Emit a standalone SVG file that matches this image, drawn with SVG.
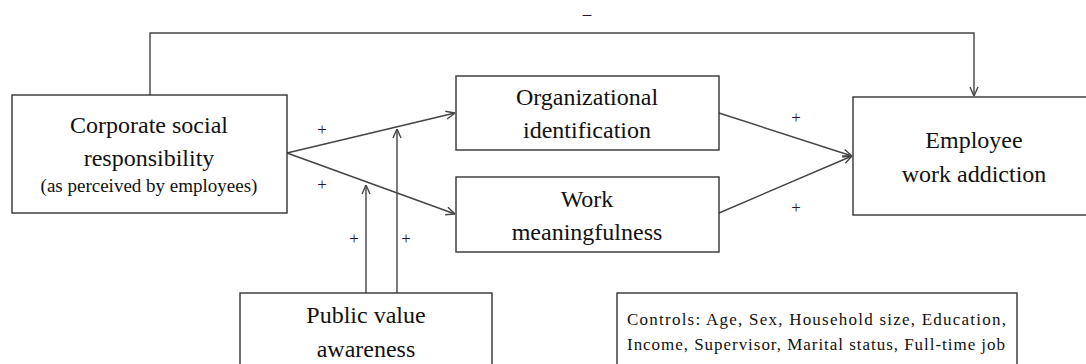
<svg xmlns="http://www.w3.org/2000/svg" width="1086" height="364" viewBox="0 0 1086 364">
  <style>
    .box { fill: #ffffff; stroke: #333333; stroke-width: 1.4; }
    .link { fill: none; stroke: #444444; stroke-width: 1.4; }
    .serif { font-family: 'Liberation Serif', 'Times New Roman', Times, serif; }
  </style>
  <defs>
    <marker id="arrow" viewBox="0 0 10 10" refX="10" refY="5" markerWidth="10" markerHeight="10" markerUnits="userSpaceOnUse" orient="auto">
      <path d="M1,1 L10,5 L1,9" fill="none" stroke="#444444" stroke-width="1.4"/>
    </marker>
  </defs>
  <rect width="1086" height="364" fill="#ffffff"/>

  <!-- connectors and their signs -->
  <g id="connectors">
    <path class="link" d="M150,95 V33 H974 V96" marker-end="url(#arrow)"/>
    <line class="link" x1="287" y1="153" x2="455" y2="113" marker-end="url(#arrow)"/>
    <line class="link" x1="287" y1="153" x2="455" y2="214" marker-end="url(#arrow)"/>
    <line class="link" x1="719" y1="113" x2="852" y2="156" marker-end="url(#arrow)"/>
    <line class="link" x1="719" y1="213" x2="852" y2="156" marker-end="url(#arrow)"/>
    <line class="link" x1="366" y1="293" x2="366" y2="185" marker-end="url(#arrow)"/>
    <line class="link" x1="397" y1="293" x2="397" y2="129" marker-end="url(#arrow)"/>
    <g id="signs" class="serif" font-size="17" fill="#2a1530" text-anchor="middle">
      <text x="587" y="19">–</text>
      <text x="322" y="135">+</text>
      <text x="322" y="190">+</text>
      <text x="354" y="244">+</text>
      <text x="406" y="244">+</text>
      <text x="796" y="123">+</text>
      <text x="796" y="213">+</text>
    </g>
  </g>

  <g class="serif" fill="#111111" font-size="24" text-anchor="middle">
    <g id="csr">
      <rect class="box" x="12" y="95" width="275" height="118"/>
      <text x="149" y="133">Corporate social</text>
      <text x="149" y="166">responsibility</text>
      <text x="149" y="192" font-size="19">(as perceived by employees)</text>
    </g>

    <g id="org-identification">
      <rect class="box" x="456" y="76" width="263" height="74"/>
      <text x="587" y="105">Organizational</text>
      <text x="587" y="138">identification</text>
    </g>

    <g id="work-meaningfulness">
      <rect class="box" x="456" y="177" width="263" height="75"/>
      <text x="587" y="207">Work</text>
      <text x="587" y="240">meaningfulness</text>
    </g>

    <g id="work-addiction">
      <rect class="box" x="853" y="97" width="240" height="118"/>
      <text x="974" y="148">Employee</text>
      <text x="974" y="182">work addiction</text>
    </g>

    <g id="public-value">
      <rect class="box" x="240" y="293" width="252" height="80"/>
      <text x="366" y="323">Public value</text>
      <text x="366" y="357">awareness</text>
    </g>

    <g id="controls" font-size="17" text-anchor="start">
      <rect class="box" x="617" y="293" width="400" height="80"/>
      <text x="627" y="325" textLength="379" lengthAdjust="spacing">Controls: Age, Sex, Household size, Education,</text>
      <text x="627" y="350" textLength="378" lengthAdjust="spacing">Income, Supervisor, Marital status, Full-time job</text>
    </g>
  </g>
</svg>
